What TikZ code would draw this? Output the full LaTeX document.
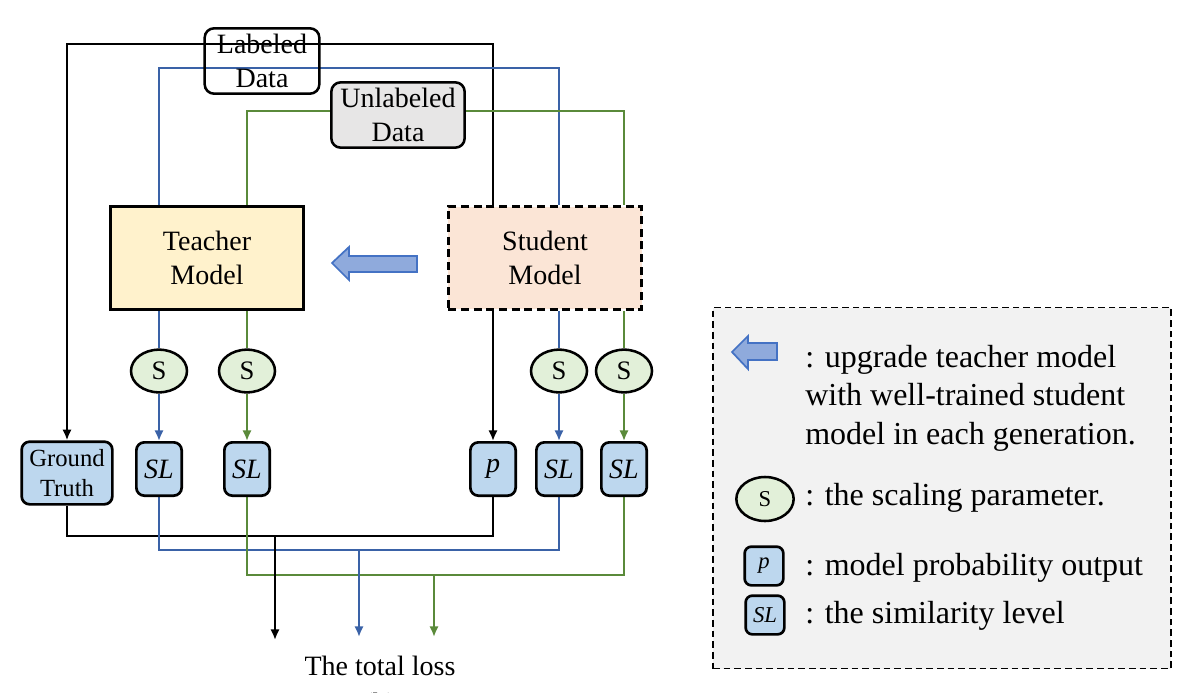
\documentclass[tikz,border=0pt]{standalone}
\usepackage{fontspec}
\setmainfont{Liberation Serif}
\usetikzlibrary{arrows.meta,backgrounds,shapes.geometric}

\definecolor{lineblue}{HTML}{3A62A7}
\definecolor{linegreen}{HTML}{5A8A3A}
\definecolor{outfill}{HTML}{BDD7EE}
\definecolor{teafill}{HTML}{FFF2CC}
\definecolor{stufill}{HTML}{FBE5D6}
\definecolor{sfill}{HTML}{E2F0D9}
\definecolor{unlfill}{HTML}{E7E6E6}
\definecolor{legfill}{HTML}{F2F2F2}
\definecolor{arrfill}{HTML}{8FAADC}
\definecolor{arrdraw}{HTML}{4472C4}

\tikzset{
  modelbox/.style={draw, line width=2.2pt, minimum width=145pt, minimum height=77pt, align=center, inner sep=0pt, font=\fontsize{21}{25}\selectfont},
  databox/.style={draw, rounded corners=7pt, line width=1.9pt, minimum height=49pt, align=center, inner sep=0pt, font=\fontsize{21}{25}\selectfont},
  sparam/.style={ellipse, draw, fill=sfill, line width=1.9pt, minimum width=42pt, minimum height=32pt, inner sep=0pt, font=\fontsize{20}{20}\selectfont},
  outbox/.style={draw, fill=outfill, rounded corners=6pt, line width=2pt, minimum width=34pt, minimum height=40pt, inner sep=0pt, align=center, font=\fontsize{21}{25}\selectfont},
  link/.style={line width=1.7pt},
  tip/.style={-{Latex[length=8pt,width=7pt]}},
  legtext/.style={anchor=base west, inner sep=0pt, font=\fontsize{24}{28}\selectfont},
}

\begin{document}
\begin{tikzpicture}[x=0.75pt,y=0.75pt,yscale=-1,xscale=1]
	\useasboundingbox (0,0) rectangle (1194,692);
	
	% data and models
	\node [databox, minimum width=86pt] (lab) at (262,61) {Labeled\\Data};
	\node [databox, fill=unlfill, minimum width=100pt] (unl) at (398,115) {Unlabeled\\Data};
	\node [modelbox, fill=teafill] (tea) at (207,258) {Teacher\\Model};
	\node [modelbox, fill=stufill, dash pattern=on 6pt off 3.5pt] (stu) at (545,258) {Student\\Model};
	
	% scaling parameters
	\node [sparam] (s1) at (159,371) {S};
	\node [sparam] (s2) at (247,371) {S};
	\node [sparam] (s3) at (559,371) {S};
	\node [sparam] (s4) at (624,371) {S};
	
	% outputs
	\node [outbox, minimum width=68pt, minimum height=47pt, font=\fontsize{18.5}{22.5}\selectfont] (gt) at (67,473) {Ground\\Truth};
	\node [outbox] (sl1) at (159,469) {\textit{SL}};
	\node [outbox] (sl2) at (247,469) {\textit{SL}};
	\node [outbox] (p) at (493,469) {\textit{p}};
	\node [outbox] (sl3) at (559,469) {\textit{SL}};
	\node [outbox] (sl4) at (624,469) {\textit{SL}};
	
	\node [inner sep=0pt, font=\fontsize{21}{25}\selectfont] (loss) at (380,666) {The total loss};
	\node [inner sep=0pt, font=\fontsize{21}{25}\selectfont] (fig) at (380,706) {(b)};
	
	% heights of the buses
	\coordinate (ybk) at (0,44);
	\coordinate (ybl) at (0,68);
	\coordinate (ygr) at (0,111);
	\coordinate (yk) at (0,536);
	\coordinate (yb) at (0,550);
	\coordinate (yg) at (0,575);
	\coordinate (endk) at (275,640);
	\coordinate (endb) at (359,637);
	\coordinate (endg) at (434,637);
	
	\begin{scope}[on background layer]
		% from the data
		\draw [link, tip] (stu.north -| p) -- (p |- ybk) -- (gt |- ybk) -- (gt.north);
		\draw [link, lineblue] (tea.north -| s1) -- (s1 |- ybl) -- (s3 |- ybl) -- (stu.north -| s3);
		\draw [link, linegreen] (tea.north -| s2) -- (s2 |- ygr) -- (s4 |- ygr) -- (stu.north -| s4);
		% to the outputs
		\draw [link, lineblue] (tea.south -| s1) -- (s1);
		\draw [link, linegreen] (tea.south -| s2) -- (s2);
		\draw [link, lineblue] (stu.south -| s3) -- (s3);
		\draw [link, linegreen] (stu.south -| s4) -- (s4);
		\draw [link, tip] (stu.south -| p) -- (p.north);
		\draw [link, lineblue, tip] (s1) -- (sl1.north);
		\draw [link, linegreen, tip] (s2) -- (sl2.north);
		\draw [link, lineblue, tip] (s3) -- (sl3.north);
		\draw [link, linegreen, tip] (s4) -- (sl4.north);
		% to the total loss
		\draw [link] (gt.south) |- (p |- yk) -- (p.south);
		\draw [link, lineblue] (sl1.south) |- (sl3 |- yb) -- (sl3.south);
		\draw [link, linegreen] (sl2.south) |- (sl4 |- yg) -- (sl4.south);
		\draw [link, tip] (endk |- yk) -- (endk);
		\draw [link, lineblue, tip] (endb |- yb) -- (endb);
		\draw [link, linegreen, tip] (endg |- yg) -- (endg);
	\end{scope}
	
	% upgrade arrow
	\draw [line width=1.3pt, draw=arrdraw, fill=arrfill] (332,263) -- (349,247) -- (349,256) -- (417,256) -- (417,272) -- (349,272) -- (349,280) -- cycle;
	
	% legend
	\node [draw, dash pattern=on 5pt off 3pt, fill=legfill, line width=1.4pt, minimum width=343.5pt, minimum height=270.75pt, inner sep=0pt] (leg) at (942,488) {};
	\draw [line width=1.3pt, draw=arrdraw, fill=arrfill] (732,352) -- (748,336) -- (748,343) -- (777,343) -- (777,360) -- (748,360) -- (748,369) -- cycle;
	\node [legtext] (t1) at (805,367) {: upgrade teacher model};
	\node [legtext] (t2) at (805,405) {with well-trained student};
	\node [legtext] (t3) at (805,444) {model in each generation.};
	\node [sparam, minimum width=43pt, minimum height=33pt, font=\fontsize{17}{17}\selectfont] (ls) at (765,499) {S};
	\node [legtext] (t4) at (805,505) {: the scaling parameter.};
	\node [outbox, minimum width=29pt, minimum height=29pt, rounded corners=5pt, font=\fontsize{17}{17}\selectfont] (lp) at (764,566) {\textit{p}};
	\node [legtext] (t5) at (805,575) {: model probability output};
	\node [outbox, minimum width=29pt, minimum height=29pt, rounded corners=5pt, font=\fontsize{17}{17}\selectfont] (lsl) at (765,615) {\textit{SL}};
	\node [legtext] (t6) at (805,623) {: the similarity level};
\end{tikzpicture}
\end{document}
